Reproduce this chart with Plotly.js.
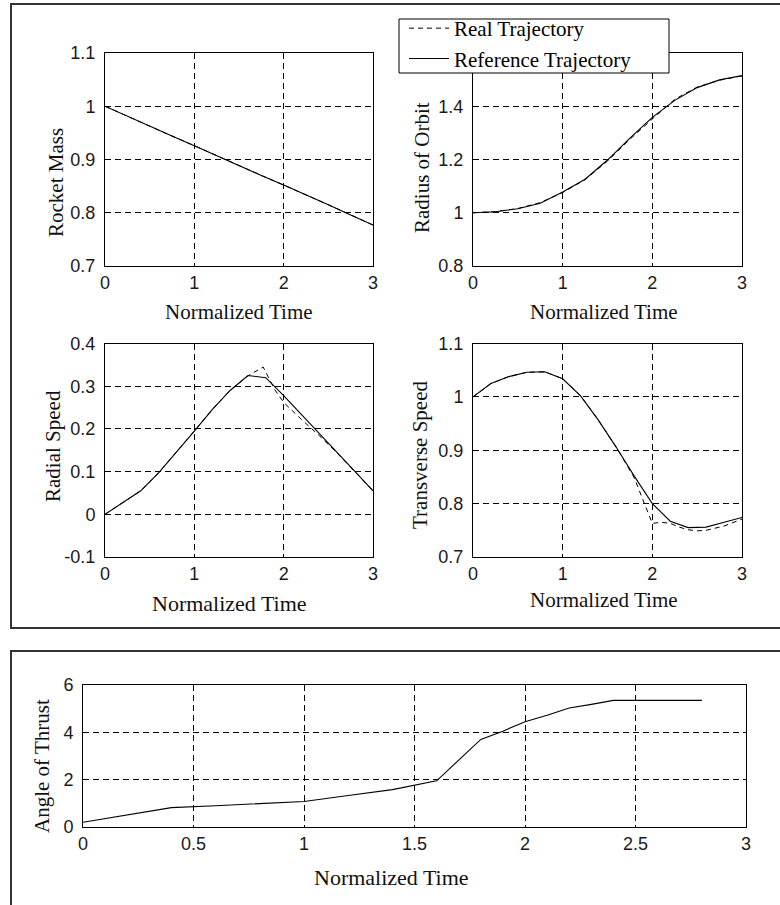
<!DOCTYPE html>
<html>
<head>
<meta charset="utf-8">
<script src="https://cdn.plot.ly/plotly-3.0.1.min.js"></script>
<style>html,body{margin:0;padding:0;background:#fff;}#chart{width:780px;height:905px;}</style>
</head>
<body>
<div id="chart"></div>
<script>
// ---------- data ----------
var tQuarter = [0, 0.25, 0.5, 0.75, 1, 1.25, 1.5, 1.75, 2, 2.25, 2.5, 2.75, 3];
var massRef  = [1.0, 0.981, 0.962, 0.944, 0.926, 0.907, 0.889, 0.870, 0.852, 0.834, 0.815, 0.796, 0.777];
var massReal = [1.0, 0.981, 0.962, 0.944, 0.926, 0.907, 0.889, 0.870, 0.852, 0.834, 0.815, 0.796, 0.777];

var radiusRef  = [1.0, 1.004, 1.015, 1.036, 1.078, 1.126, 1.198, 1.280, 1.358, 1.422, 1.470, 1.499, 1.515];
var radiusReal = [1.0, 1.004, 1.016, 1.038, 1.076, 1.124, 1.194, 1.276, 1.352, 1.426, 1.472, 1.498, 1.514];

var tFifth = [0, 0.2, 0.4, 0.6, 0.8, 1.0, 1.2, 1.4, 1.6, 1.8, 2.0, 2.2, 2.4, 2.6, 2.8, 3.0];
var radialRef = [0, 0.027, 0.055, 0.097, 0.145, 0.195, 0.245, 0.290, 0.325, 0.320, 0.278, 0.234, 0.190, 0.145, 0.100, 0.055];
var tRadialReal = [0, 0.2, 0.4, 0.6, 0.8, 1.0, 1.2, 1.4, 1.6, 1.7, 1.77, 1.9, 2.0, 2.2, 2.4, 2.6, 2.8, 3.0];
var radialReal  = [0, 0.027, 0.055, 0.097, 0.145, 0.195, 0.245, 0.290, 0.324, 0.336, 0.345, 0.292, 0.262, 0.222, 0.184, 0.143, 0.100, 0.055];

var transRef = [1.0, 1.025, 1.038, 1.046, 1.047, 1.034, 1.002, 0.956, 0.905, 0.851, 0.800, 0.767, 0.755, 0.756, 0.765, 0.774];
var tTransReal = [0, 0.2, 0.4, 0.6, 0.8, 1.0, 1.2, 1.4, 1.6, 1.8, 1.9, 2.0, 2.1, 2.2, 2.3, 2.4, 2.5, 2.6, 2.8, 3.0];
var transReal  = [1.0, 1.025, 1.038, 1.046, 1.047, 1.034, 1.002, 0.956, 0.905, 0.848, 0.805, 0.763, 0.765, 0.763, 0.756, 0.751, 0.749, 0.750, 0.758, 0.771];

var tAngle = [0, 0.2, 0.4, 0.6, 0.8, 1.0, 1.2, 1.4, 1.6, 1.8, 1.9, 2.0, 2.1, 2.2, 2.3, 2.4, 2.6, 2.8];
var angleThrust = [0.2, 0.5, 0.82, 0.9, 0.98, 1.08, 1.33, 1.58, 1.95, 3.7, 4.05, 4.45, 4.72, 5.03, 5.18, 5.35, 5.35, 5.35];

var timeTicks3 = [0, 1, 2, 3];
var timeTickText3 = ['0', '1', '2', '3'];
var massTicks = [0.7, 0.8, 0.9, 1.0, 1.1];
var massTickText = ['0.7', '0.8', '0.9', '1', '1.1'];
var radiusTicks = [0.8, 1.0, 1.2, 1.4];
var radiusTickText = ['0.8', '1', '1.2', '1.4'];
var radialTicks = [-0.1, 0, 0.1, 0.2, 0.3, 0.4];
var radialTickText = ['-0.1', '0', '0.1', '0.2', '0.3', '0.4'];
var transTicks = [0.7, 0.8, 0.9, 1.0, 1.1];
var transTickText = ['0.7', '0.8', '0.9', '1', '1.1'];
var angleTimeTicks = [0, 0.5, 1, 1.5, 2, 2.5, 3];
var angleTimeTickText = ['0', '0.5', '1', '1.5', '2', '2.5', '3'];
var angleTicks = [0, 2, 4, 6];
var angleTickText = ['0', '2', '4', '6'];

var seriesNames = ['Real Trajectory', 'Reference Trajectory'];
var xTitle = 'Normalized Time';

// ---------- layout helpers ----------
var W = 780, H = 905;
function fx(p) { return p / W; }
function fy(p) { return 1 - p / H; }

var tickFont = {family: 'Liberation Sans, Arial, sans-serif', size: 18, color: '#1a1a1a'};
var titleFont = {family: 'Liberation Serif, Times New Roman, serif', size: 21, color: '#111'};
var gridDash = '6px,4px';

function axis(dom, range, tv, tt, anchor, isX) {
  return {
    domain: dom, range: range, tickvals: tv, ticktext: tt, anchor: anchor,
    showgrid: true, gridcolor: '#000', gridwidth: 1, griddash: gridDash,
    showline: true, mirror: true, linecolor: '#000', linewidth: 1,
    zeroline: false, ticks: '', tickfont: tickFont,
    ticklabelstandoff: isX ? 0 : 5, fixedrange: true
  };
}

var realLine = {color: '#000', width: 1, dash: '5px,4px'};
var refLine = {color: '#000', width: 1.1};

var traces = [
  {x: tQuarter, y: massReal, xaxis: 'x', yaxis: 'y', mode: 'lines', line: realLine, name: seriesNames[0], showlegend: false},
  {x: tQuarter, y: massRef, xaxis: 'x', yaxis: 'y', mode: 'lines', line: refLine, name: seriesNames[1], showlegend: false},
  {x: tQuarter, y: radiusReal, xaxis: 'x2', yaxis: 'y2', mode: 'lines', line: realLine, name: seriesNames[0], showlegend: true},
  {x: tQuarter, y: radiusRef, xaxis: 'x2', yaxis: 'y2', mode: 'lines', line: refLine, name: seriesNames[1], showlegend: true},
  {x: tRadialReal, y: radialReal, xaxis: 'x3', yaxis: 'y3', mode: 'lines', line: realLine, name: seriesNames[0], showlegend: false},
  {x: tFifth, y: radialRef, xaxis: 'x3', yaxis: 'y3', mode: 'lines', line: refLine, name: seriesNames[1], showlegend: false},
  {x: tTransReal, y: transReal, xaxis: 'x4', yaxis: 'y4', mode: 'lines', line: realLine, name: seriesNames[0], showlegend: false},
  {x: tFifth, y: transRef, xaxis: 'x4', yaxis: 'y4', mode: 'lines', line: refLine, name: seriesNames[1], showlegend: false},
  {x: tAngle, y: angleThrust, xaxis: 'x5', yaxis: 'y5', mode: 'lines', line: refLine, name: 'Angle of Thrust', showlegend: false}
];

var colL = [fx(105), fx(373)], colR = [fx(473), fx(742)];
var row1 = [fy(266), fy(53)], row2 = [fy(557), fy(343.5)];

function ann(text, x, y, angle, size) {
  return {text: text, xref: 'paper', yref: 'paper', x: fx(x), y: fy(y), xanchor: 'center', yanchor: 'middle',
    showarrow: false, textangle: angle || 0, font: {family: titleFont.family, size: size || 21, color: titleFont.color}};
}

var layout = {
  width: W, height: H, margin: {l: 0, r: 0, t: 0, b: 0},
  paper_bgcolor: '#fff', plot_bgcolor: '#fff',
  xaxis: axis(colL, [0, 3], timeTicks3, timeTickText3, 'y', true),
  yaxis: axis(row1, [0.7, 1.1], massTicks, massTickText, 'x', false),
  xaxis2: axis(colR, [0, 3], timeTicks3, timeTickText3, 'y2', true),
  yaxis2: axis(row1, [0.8, 1.6], radiusTicks, radiusTickText, 'x2', false),
  xaxis3: axis(colL, [0, 3], timeTicks3, timeTickText3, 'y3', true),
  yaxis3: axis(row2, [-0.1, 0.4], radialTicks, radialTickText, 'x3', false),
  xaxis4: axis(colR, [0, 3], timeTicks3, timeTickText3, 'y4', true),
  yaxis4: axis(row2, [0.7, 1.1], transTicks, transTickText, 'x4', false),
  xaxis5: axis([fx(83), fx(746)], [0, 3], angleTimeTicks, angleTimeTickText, 'y5', true),
  yaxis5: axis([fy(827), fy(685)], [0, 6], angleTicks, angleTickText, 'x5', false),
  showlegend: true,
  legend: {x: fx(404), y: fy(8), xanchor: 'left', yanchor: 'top', bgcolor: 'rgba(0,0,0,0)', borderwidth: 0,
    itemwidth: 40, font: {family: titleFont.family, size: 21, color: '#000'}, tracegroupgap: 0},
  shapes: [
    {type: 'rect', xref: 'paper', yref: 'paper', x0: fx(11), x1: fx(790), y0: fy(628), y1: fy(4), line: {color: '#333', width: 2}, fillcolor: 'rgba(0,0,0,0)', layer: 'below'},
    {type: 'rect', xref: 'paper', yref: 'paper', x0: fx(11), x1: fx(790), y0: fy(915), y1: fy(651), line: {color: '#333', width: 2}, fillcolor: 'rgba(0,0,0,0)', layer: 'below'},
    {type: 'rect', xref: 'paper', yref: 'paper', x0: fx(399), x1: fx(669), y0: fy(73), y1: fy(19), line: {color: '#000', width: 1}, fillcolor: '#fff', layer: 'above'}
  ],
  annotations: [
    ann('Rocket Mass', 56, 182, -90),
    ann(xTitle, 239, 312, 0),
    ann('Radius of Orbit', 422, 168, -90),
    ann(xTitle, 604, 312, 0),
    ann('Radial Speed', 53, 446, -90),
    ann(xTitle, 229, 603, 0, 22),
    ann('Transverse Speed', 420, 455, -90),
    ann(xTitle, 604, 600, 0),
    ann('Angle of Thrust', 42, 766, -90),
    ann(xTitle, 391, 877, 0, 22)
  ]
};

Plotly.newPlot('chart', traces, layout, {staticPlot: true, displayModeBar: false});
</script>
</body>
</html>
